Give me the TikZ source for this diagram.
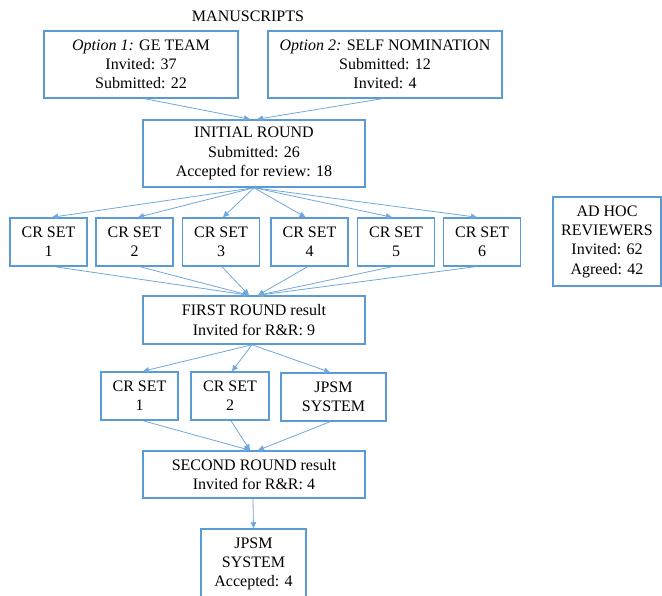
\documentclass[tikz,border=0pt]{standalone}
\usepackage{fontspec}
\setmainfont{Liberation Serif}
\usetikzlibrary{arrows.meta}
\definecolor{boxblue}{HTML}{5B9BD5}
\definecolor{arrblue}{HTML}{6FA8DC}
\begin{document}
\begin{tikzpicture}[x=1pt,y=-1pt,
  txt/.style={font=\fontsize{16}{19.3}\selectfont},
  box/.style={draw=boxblue,line width=1.5pt,fill=white,align=center,inner sep=0pt,txt},
  crbox/.style={box,minimum width=77pt,minimum height=48pt},
  arr/.style={draw=arrblue,line width=0.8pt,-{Triangle[length=6pt,width=5.5pt]}}]
\useasboundingbox[fill=white] (0,0) rectangle (662,596);
\node[txt] (title) at (248,16) {MANUSCRIPTS};
\node[box,minimum width=194pt,minimum height=67pt] (opt1) at (141,64.5) {\textit{Option 1:} GE TEAM\\Invited: 37\\Submitted: 22};
\node[box,minimum width=234pt,minimum height=67pt] (opt2) at (385,64.5) {\textit{Option 2:} SELF NOMINATION\\Submitted: 12\\Invited: 4};
\node[box,minimum width=222pt,minimum height=67pt] (init) at (254,153.5) {INITIAL ROUND\\Submitted: 26\\Accepted for review: 18};
\node[crbox] (cr1) at (48.5,242) {CR SET\\1};
\node[crbox] (cr2) at (134.5,242) {CR SET\\2};
\node[crbox] (cr3) at (221,242) {CR SET\\3};
\node[crbox] (cr4) at (309.5,242) {CR SET\\4};
\node[crbox] (cr5) at (396,242) {CR SET\\5};
\node[crbox] (cr6) at (482,242) {CR SET\\6};
\node[box,minimum width=108pt,minimum height=89pt] (adhoc) at (607,241.5) {AD HOC\\REVIEWERS\\Invited: 62\\Agreed: 42};
\node[box,minimum width=222pt,minimum height=48pt] (first) at (254,320) {FIRST ROUND result\\Invited for R\&R: 9};
\node[crbox] (crb1) at (139.5,396) {CR SET\\1};
\node[crbox,minimum width=78pt] (crb2) at (230,396) {CR SET\\2};
\node[box,minimum width=105pt,minimum height=48pt] (jpsm) at (333.5,397) {JPSM\\SYSTEM};
\node[box,minimum width=222pt,minimum height=47pt] (second) at (254,474.5) {SECOND ROUND result\\Invited for R\&R: 4};
\node[box,minimum width=105pt,minimum height=70pt] (final) at (253.5,564) {JPSM\\SYSTEM\\Accepted: 4};
% arrows
\draw[arr] ([xshift=4pt]opt1.south) -- ([xshift=-4pt]init.north);
\draw[arr] ([xshift=-3pt]opt2.south) -- ([xshift=3pt]init.north);
\draw[arr] (init.south) -- ([xshift=3.5pt]cr1.north);
\draw[arr] (init.south) -- ([xshift=3.5pt]cr2.north);
\draw[arr] (init.south) -- ([xshift=2pt]cr3.north);
\draw[arr] (init.south) -- ([xshift=-4pt]cr4.north);
\draw[arr] (init.south) -- ([xshift=-4pt]cr5.north);
\draw[arr] (init.south) -- ([xshift=-5pt]cr6.north);
\draw[arr] ([xshift=6.5pt]cr1.south) -- ([xshift=-5pt]first.north);
\draw[arr] ([xshift=5.5pt]cr2.south) -- ([xshift=-5pt]first.north);
\draw[arr] ([xshift=1pt]cr3.south) -- ([xshift=-5pt]first.north);
\draw[arr] ([xshift=-2pt]cr4.south) -- ([xshift=4pt]first.north);
\draw[arr] ([xshift=-4pt]cr5.south) -- ([xshift=4pt]first.north);
\draw[arr] ([xshift=-7pt]cr6.south) -- ([xshift=4pt]first.north);
\draw[arr] ([xshift=-2pt]first.south) -- ([xshift=3.5pt]crb1.north);
\draw[arr] ([xshift=-2pt]first.south) -- ([xshift=2pt]crb2.north);
\draw[arr] ([xshift=-2pt]first.south) -- ([xshift=-3.5pt]jpsm.north);
\draw[arr] ([xshift=3.5pt]crb1.south) -- ([xshift=-4pt]second.north);
\draw[arr] ([xshift=1pt]crb2.south) -- ([xshift=-4pt]second.north);
\draw[arr] ([xshift=-3.5pt]jpsm.south) -- ([xshift=4pt]second.north);
\draw[arr] ([xshift=-1pt]second.south) -- (final.north);
\end{tikzpicture}
\end{document}
